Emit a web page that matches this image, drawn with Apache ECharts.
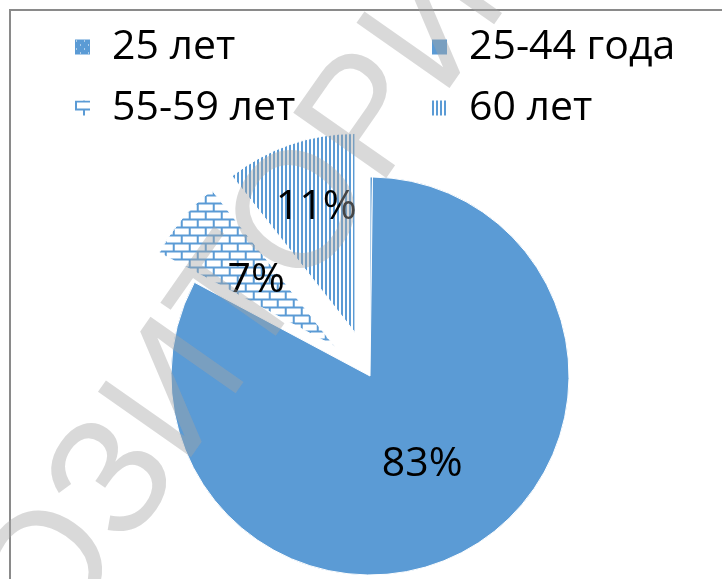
<!DOCTYPE html>
<html><head><meta charset="utf-8">
<script src="https://cdn.jsdelivr.net/npm/echarts@6/dist/echarts.min.js"></script>
<style>html,body{margin:0;padding:0;background:#fff}#c{width:722px;height:579px}</style>
</head><body><div id="c"></div>
<script>
// ---- data ----
const categories = ['25 лет', '25-44 года', '55-59 лет', '60 лет'];
const values = [0.2, 82.6, 6.6, 10.6];
const exploded = [false, false, true, true];
const legendLeftCol = ['25 лет', '55-59 лет'];
const legendRightCol = ['25-44 года', '60 лет'];

const BLUE = '#5B9BD5';
const FONT = '"Open Sans", "Noto Sans", sans-serif';

function makePattern(w, h, draw) {
  const c = document.createElement('canvas');
  c.width = w; c.height = h;
  draw(c.getContext('2d'));
  return { image: c, repeat: 'repeat' };
}
const dots = makePattern(8, 8, g => {
  g.fillStyle = BLUE; g.fillRect(0, 0, 8, 8);
  g.fillStyle = '#fff'; g.fillRect(1, 1, 1, 1); g.fillRect(5, 5, 1, 1);
});
const brick = makePattern(16, 16, g => {
  g.fillStyle = '#fff'; g.fillRect(0, 0, 16, 16);
  g.fillStyle = BLUE;
  g.fillRect(0, 0, 16, 2); g.fillRect(0, 8, 16, 2);
  g.fillRect(0, 2, 2, 6); g.fillRect(8, 10, 2, 6);
});
const vlines = makePattern(4, 4, g => {
  g.fillStyle = '#fff'; g.fillRect(0, 0, 4, 4);
  g.fillStyle = BLUE; g.fillRect(0, 0, 2, 4);
});
const fills = [dots, BLUE, brick, vlines];

const chart = echarts.init(document.getElementById('c'), null, { renderer: 'canvas' });

const legendCommon = {
  orient: 'vertical', top: 20, itemWidth: 15, itemHeight: 15, itemGap: 17,
  icon: 'rect', selectedMode: false,
  itemStyle: { borderWidth: 0 },
  textStyle: { fontFamily: FONT, fontSize: 41, color: '#000', lineHeight: 44, padding: [0, 0, 0, 17] }
};

chart.setOption({
  animation: false,
  backgroundColor: '#fff',
  legend: [
    Object.assign({ left: 70, data: legendLeftCol }, legendCommon),
    Object.assign({ left: 427, data: legendRightCol }, legendCommon)
  ],
  graphic: [
    { type: 'rect', z: 0, shape: { x: 10, y: 10, width: 800, height: 700 },
      style: { fill: 'none', stroke: '#8a8a8a', lineWidth: 2 } },
    { type: 'text', z: 100, x: -179, y: 906, rotation: 55 * Math.PI / 180,
      style: { text: 'РЕПОЗИТОРИЙ ВГУ', font: '165px "Liberation Sans", sans-serif',
               fill: 'rgba(164,164,164,0.42)', textAlign: 'left', textVerticalAlign: 'middle' } }
  ],
  series: [{
    type: 'pie',
    center: [370, 376],
    radius: 199,
    startAngle: 90,
    clockwise: true,
    selectedMode: 'multiple',
    selectedOffset: 46,
    avoidLabelOverlap: false,
    labelLayout: { hideOverlap: false },
    itemStyle: { borderColor: '#fff', borderWidth: 1 },
    labelLine: { show: false },
    emphasis: { disabled: true },
    label: {
      show: true, position: 'inside', color: '#000', fontFamily: FONT, fontSize: 41,
      formatter: p => Math.round(p.percent) + '%'
    },
    data: categories.map((n, i) => ({
      name: n, value: values[i], selected: exploded[i],
      itemStyle: { color: fills[i] },
      label: i === 0 ? { show: false }
           : (i === 3 ? { lineHeight: 56, formatter: p => Math.round(p.percent) + '% \n ' } : {})
    }))
  }]
});
</script></body></html>
